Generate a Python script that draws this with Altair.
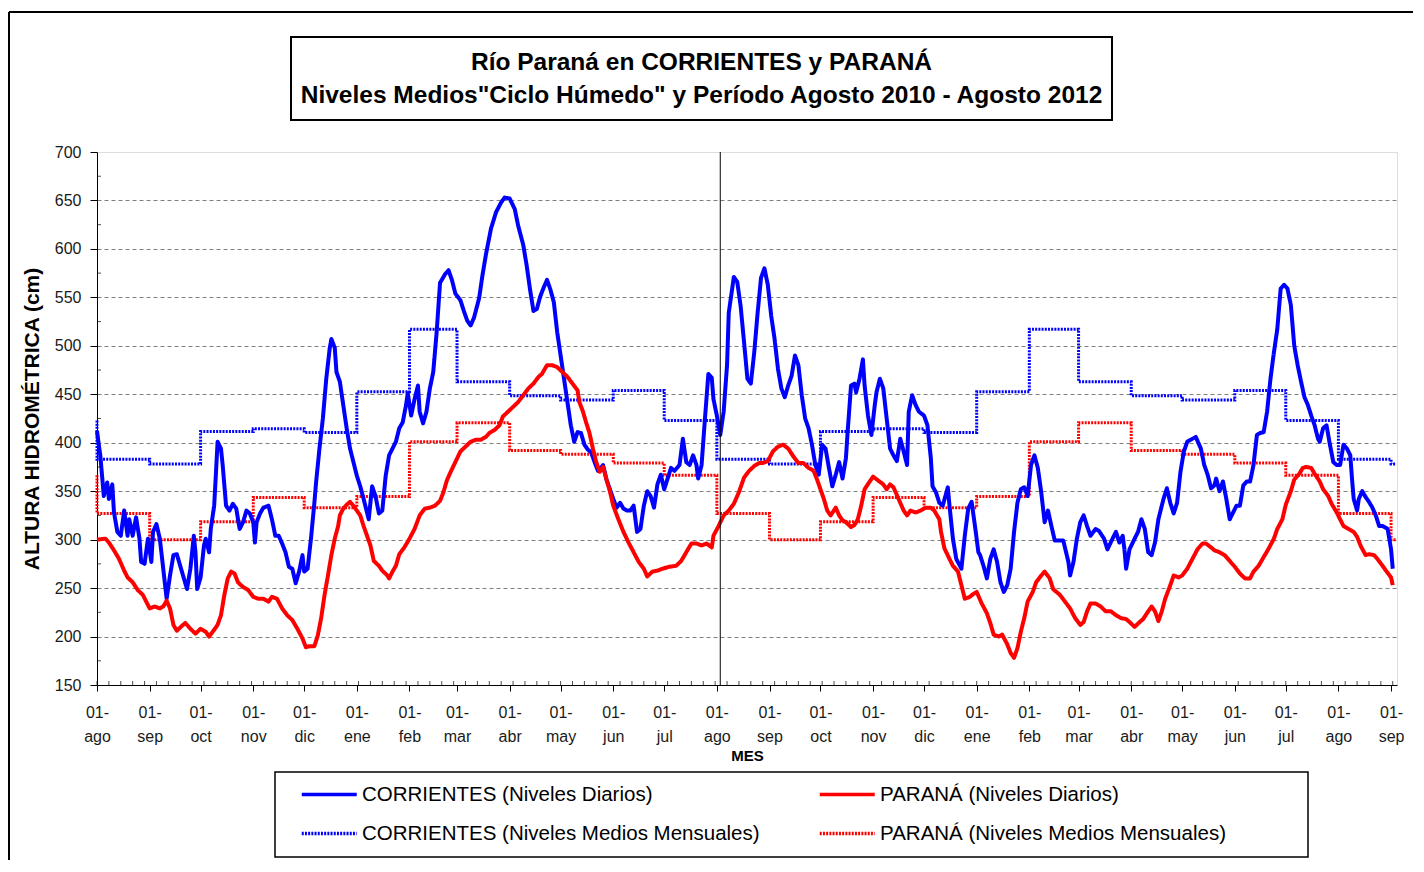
import altair as alt
import pandas as pd
from datetime import date, timedelta

# ---------------- data ----------------
INICIO = date(2010, 8, 1)   # day 0 of the daily series

CORR_DIAS = [0, 2, 4, 6, 7, 9, 10, 12, 14, 16, 18, 19, 21, 23, 25, 26, 28, 30, 32, 33, 35, 37, 39, 41, 43, 45, 47, 49,
             51, 53, 55, 57, 58, 59, 61, 63, 64, 66, 67, 69, 70, 71, 73, 74, 76, 78, 80, 82, 84, 86, 88, 90, 92, 93,
             94, 96, 98, 101, 103, 105, 107, 109, 111, 113, 115, 117, 119, 121, 122, 124, 126, 128, 129, 131, 133,
             135, 137, 138, 140, 141, 143, 145, 147, 149, 151, 153, 155, 157, 158, 160, 162, 164, 166, 168, 170, 172,
             174, 176, 178, 180, 182, 183, 185, 187, 189,
             190, 192, 194, 196, 198, 200, 202, 205, 207, 209, 211, 214, 216, 218, 220, 222, 225, 227, 229, 232, 235,
             238, 240, 243, 246, 248, 251, 253, 255, 257, 259, 261, 263, 265, 267, 269, 271, 273, 275, 277, 279, 281,
             283, 285, 287, 289, 291, 293, 295, 298, 300, 302, 304, 306, 308, 310, 312, 314, 316, 318, 320, 322, 324,
             326, 328, 330, 332, 334, 336, 338, 340, 343, 345, 347, 349, 351, 353, 354, 356, 358, 360, 362, 363, 365,
             367, 369, 371, 372,
             375, 377, 379, 381, 383, 385, 387, 389, 391, 393, 395, 397, 399, 401, 403, 405, 407, 409, 411, 413, 415,
             417, 419, 421, 423, 425, 427, 429, 431, 433, 435, 437, 439, 441, 442, 444, 446, 447, 449, 451, 452, 454,
             456, 458, 459, 461, 463, 465, 467, 469, 471, 473, 475, 477, 478, 480, 482, 484, 487, 489, 491, 492, 494,
             496, 498, 501, 502, 504, 506, 509, 511, 513, 515, 517, 519, 520, 522, 524, 526, 528, 530, 532, 534, 536,
             538, 540, 542, 544, 546, 548, 550, 552, 554, 556, 558, 560, 562, 564,
             569, 572, 573, 575, 577, 579, 581, 583, 585, 588, 590, 593, 595, 598, 600, 602, 604, 605, 606, 608, 611,
             613, 615, 617, 619, 621, 623, 625, 627, 628, 630, 632, 634, 636, 638, 640, 642, 645, 647, 650, 652, 654,
             656, 658, 659, 661, 663, 665, 667, 669, 671, 673, 675, 677, 679, 681, 683, 685, 687, 689, 691, 693, 695,
             697, 699, 701, 703, 705, 707, 709, 711, 713, 715, 717, 719, 720, 722, 724, 726, 728, 730, 732, 734, 736,
             738, 739, 740, 742, 743, 745, 747, 749, 751, 753, 755, 757, 760, 762, 763]
CORR_NIVEL = [412, 386, 345, 359, 342, 357, 328, 308, 304, 330, 304, 321, 304, 323, 301, 277, 275, 301, 277, 308, 316,
              301, 270, 239, 263, 284, 285, 273, 261, 249, 270, 304, 287, 249, 261, 294, 301, 287, 311, 335, 367, 401,
              394, 377, 335, 330, 337, 332, 311, 318, 330, 327, 318, 297, 318, 327, 333, 335, 321, 304, 304, 296, 287,
              272, 270, 255, 267, 284, 267, 270, 301, 338, 359, 394, 425, 466, 497, 507, 498, 473, 463, 439, 415, 394,
              380, 366, 355, 342, 335, 321, 355, 345, 327, 330, 366, 387, 394, 401, 415, 421, 439, 451, 428, 445, 459,
              432, 420, 432, 456, 473, 514, 565, 574, 578, 568, 554, 547, 536, 526, 521, 529, 549, 573, 594, 621, 638,
              648, 653, 652, 641, 624, 604, 583, 558, 536, 538, 551, 560, 568, 558, 545, 514, 490, 466, 442, 418, 401,
              411, 410, 398, 393, 390, 380, 371, 377, 362, 352, 342, 333, 338, 332, 330, 330, 335, 308, 311, 335, 350,
              345, 333, 357, 367, 352, 363, 374, 371, 377, 404, 380, 377, 387, 377, 363, 377, 425, 471, 467, 445, 428,
              408, 432, 480, 534,
              571, 566, 541, 504, 466, 461, 493, 534, 570, 580, 563, 531, 507, 476, 456, 447, 459, 469, 490, 480, 449,
              425, 415, 398, 377, 367, 398, 394, 374, 355, 367, 380, 363, 384, 411, 459, 461, 452, 466, 486, 459, 428,
              408, 439, 452, 466, 456, 425, 394, 387, 381, 404, 391, 377, 432, 449, 439, 432, 428, 418, 384, 355, 349,
              338, 335, 354, 335, 301, 280, 270, 304, 332, 339, 314, 287, 284, 273, 260, 280, 290, 277, 256, 246, 253,
              270, 308, 338, 352, 354, 345, 377, 387, 374, 349, 318, 330, 314, 299,
              299, 277, 263, 277, 301, 318, 325, 314, 304, 311, 309, 301, 290, 301, 308, 297, 304, 290, 270, 290, 301,
              308, 321, 311, 287, 284, 297, 321, 335, 342, 353, 338, 327, 338, 370, 391, 401, 404, 406, 394, 377, 367,
              353, 356, 363, 350, 360, 342, 321, 328, 335, 335, 356, 360, 360, 377, 408, 410, 411, 432, 466, 493, 517,
              559, 563, 559, 542, 500, 480, 463, 447, 439, 428, 418, 404, 401, 415, 418, 398, 380, 377, 377, 398, 394,
              387, 363, 342, 330, 342, 350, 344, 339, 333, 325, 314, 314, 311, 290, 270]

PAR_DIAS = [0, 5, 7, 10, 13, 16, 18, 21, 24, 27, 29, 31, 34, 37, 39, 41, 43, 45, 47, 50, 52, 55, 58, 61, 64, 66, 69,
            71, 73, 75, 77, 79, 81, 83, 86, 89, 92, 95, 98, 101, 103, 106, 109, 112, 115, 118, 121, 123, 125, 128,
            130, 132, 134, 136, 138, 140, 142, 143, 145, 147, 149, 151, 153, 155, 157, 159, 161, 163, 166, 168, 171,
            172, 174, 176, 178, 181, 184, 187,
            190, 193, 196, 199, 202, 204, 206, 208, 211, 214, 217, 220, 223, 226, 229, 231, 234, 237, 239, 242, 245,
            248, 251, 254, 257, 260, 262, 265, 268, 271, 274, 277, 280, 283, 284, 286, 288, 290, 292, 294, 296, 298,
            300, 302, 304, 307, 310, 313, 316, 319, 322, 324, 327, 330, 333, 337, 341, 344, 347, 350, 353, 356, 359,
            362, 363, 366, 369, 372,
            375, 378, 381, 384, 387, 390, 392, 395, 398, 401, 404, 407, 410, 413, 416, 419, 422, 424, 426, 428, 430,
            432, 435, 437, 439, 441, 444, 446, 448, 450, 452, 455, 457, 460, 463, 465, 467, 469, 472, 475, 477, 479,
            482, 485, 488, 491, 493, 496, 497, 499, 502, 504, 507, 509, 511, 514, 516, 518, 521, 524, 526, 528, 531,
            533, 536, 538, 540, 542, 544, 546, 548, 551, 553, 556, 558, 561, 563,
            567, 570, 573, 576, 579, 581, 583, 585, 588, 591, 594, 597, 600, 603, 606, 608, 611, 614, 616, 619, 621,
            623, 625, 627, 629, 632, 634, 637, 639, 642, 645, 648, 651, 653, 656, 658, 661, 664, 667, 670, 673, 676,
            679, 681, 684, 687, 690, 693, 695, 698, 700, 703, 705, 708, 710, 712, 715, 717, 720, 722, 725, 727, 730,
            732, 734, 737, 740, 742, 744, 747, 749, 752, 754, 757, 759, 762, 763]
PAR_NIVEL = [300, 301, 297, 289, 280, 268, 261, 256, 248, 243, 236, 229, 231, 229, 231, 237, 229, 212, 206, 211, 214,
             208, 203, 208, 205, 200, 207, 212, 222, 243, 260, 267, 265, 256, 251, 248, 241, 239, 239, 236, 241, 239,
             229, 222, 217, 208, 198, 189, 190, 190, 201, 219, 243, 263, 284, 301, 314, 325, 332, 336, 339, 335, 330,
             325, 314, 304, 294, 278, 273, 268, 263, 260, 267, 273, 285, 292, 301, 311,
             325, 332, 333, 335, 340, 349, 361, 369, 380, 391, 396, 401, 403, 403, 406, 410, 413, 418, 427, 432, 437,
             442, 449, 456, 461, 468, 471, 480, 480, 478, 473, 468, 461, 454, 442, 433, 421, 410, 394, 380, 370, 375,
             362, 350, 335, 321, 308, 297, 287, 277, 270, 262, 267, 268, 270, 272, 273, 278, 287, 296, 296, 294, 296,
             292, 304, 314, 325, 330,
             337, 349, 364, 371, 376, 379, 379, 381, 391, 396, 398, 394, 386, 379, 379, 374, 371, 362, 352, 342, 330,
             325, 333, 325, 320, 318, 313, 315, 321, 335, 352, 360, 365, 361, 357, 352, 357, 354, 342, 330, 325, 330,
             328, 330, 333, 333, 330, 321, 308, 291, 280, 273, 267, 253, 239, 241, 244, 246, 234, 224, 214, 202, 200,
             202, 192, 183, 178, 188, 205, 219, 236, 246, 256, 263, 267, 260, 249,
             243, 236, 229, 219, 212, 215, 226, 234, 234, 231, 226, 226, 222, 219, 218, 215, 210, 215, 218, 226, 231,
             226, 216, 226, 239, 253, 263, 261, 263, 270, 280, 290, 296, 296, 292, 289, 287, 284, 278, 272, 265, 260,
             260, 267, 273, 282, 291, 301, 311, 321, 336, 350, 362, 368, 374, 375, 374, 368, 360, 352, 345, 337, 328,
             321, 314, 311, 308, 303, 294, 284, 285, 284, 280, 273, 268, 261, 253]

# monthly means ("ciclo húmedo"), August .. July
MESES_CICLO = ["ago", "sep", "oct", "nov", "dic", "ene", "feb", "mar", "abr", "may", "jun", "jul"]
CORR_MENSUAL = [383, 378, 411.5, 414.5, 410.5, 452.5, 517, 463, 448.5, 444, 454, 423]
PAR_MENSUAL = [327, 300, 318.5, 343.5, 333, 344.5, 401, 420.5, 392, 388, 379, 366.5]

MES_ABREV = ["ene", "feb", "mar", "abr", "may", "jun", "jul", "ago", "sep", "oct", "nov", "dic"]
SEPARADOR = "2011-08-03"
FIN_EJE = "2012-09-04"

S_CD = "CORRIENTES (Niveles Diarios)"
S_PD = "PARANÁ (Niveles Diarios)"
S_CM = "CORRIENTES (Niveles Medios Mensuales)"
S_PM = "PARANÁ (Niveles Medios Mensuales)"
SERIES = [S_CD, S_PD, S_CM, S_PM]
COLORES = ["#0000ff", "#ff0000", "#0000ff", "#ff0000"]
DASHES = [[1, 0], [1, 0], [2, 1.2], [2, 1.2]]

TITULO_1 = "Río Paraná en CORRIENTES y PARANÁ"
TITULO_2 = 'Niveles Medios"Ciclo Húmedo" y Período Agosto 2010 - Agosto 2012'

# ---------------- tables ----------------
def fecha(d):
    return (INICIO + timedelta(days=d)).isoformat()

corr = pd.DataFrame({"fecha": [fecha(d) for d in CORR_DIAS], "nivel": CORR_NIVEL, "serie": S_CD})
par = pd.DataFrame({"fecha": [fecha(d) for d in PAR_DIAS], "nivel": PAR_NIVEL, "serie": S_PD})

inicios_mes = [date(2010 + (7 + k) // 12, (7 + k) % 12 + 1, 1) for k in range(26)]
rows = []
for serie, vals in [(S_CM, CORR_MENSUAL), (S_PM, PAR_MENSUAL)]:
    i = 0
    rows.append({"fecha": inicios_mes[0].isoformat(), "nivel": vals[11], "serie": serie, "i": i})
    for k, m in enumerate(inicios_mes):
        i += 1
        rows.append({"fecha": m.isoformat(), "nivel": vals[k % 12], "serie": serie, "i": i})
    rows.append({"fecha": FIN_EJE, "nivel": vals[(len(inicios_mes) - 1) % 12], "serie": serie, "i": i + 1})
mensual = pd.DataFrame(rows)

minor_y = pd.DataFrame({"v": list(range(175, 700, 50))})
minor_x = pd.DataFrame({"f": [d.strftime("%Y-%m-%d") for d in pd.date_range("2010-08-01", FIN_EJE, freq="7D")]})
sep_df = pd.DataFrame({"f": [SEPARADOR]})
one = pd.DataFrame({"a": [1]})

# ---------------- encodings ----------------
FONT = "Liberation Sans"
mes_list = "[" + ",".join("'%s'" % m for m in MES_ABREV) + "]"
x_vals = [alt.DateTime(year=d.year, month=d.month, date=1, utc=True) for d in inicios_mes]
x_scale = alt.Scale(type="utc", nice=False,
                    domain=[alt.DateTime(year=2010, month=8, date=1, utc=True),
                            alt.DateTime(year=2012, month=9, date=4, hours=12, utc=True)])
y_scale = alt.Scale(domain=[150, 700], nice=False, zero=False)

x_axis = alt.Axis(values=x_vals, labelExpr="['01-', %s[utcmonth(datum.value)]]" % mes_list,
                  labelAngle=0, labelFontSize=16, labelFont=FONT, labelColor="#1a1a1a",
                  labelLineHeight=24.5, labelPadding=13, labelFlush=False, labelOverlap=False,
                  labelBound=False, tickSize=6, tickColor="black", domainColor="black", grid=False,
                  title="MES", titleFont=FONT, titleFontSize=15, titleFontWeight="bold",
                  titleColor="black", titlePadding=4)
y_axis = alt.Axis(values=list(range(150, 701, 50)), labelFontSize=16, labelFont=FONT, labelColor="#1a1a1a",
                  labelPadding=9, tickSize=7, tickColor="black", domainColor="black",
                  grid=True, gridColor="#7f7f7f", gridDash=[4, 3], gridWidth=1,
                  gridOpacity={"condition": {"test": "datum.value <= 150 || datum.value >= 700", "value": 0},
                               "value": 1},
                  title="ALTURA HIDROMÉTRICA (cm)", titleFont=FONT, titleFontSize=21, titleFontWeight="bold",
                  titleColor="black", titlePadding=12)

color_enc = alt.Color("serie:N", scale=alt.Scale(domain=SERIES, range=COLORES),
                      legend=alt.Legend(orient="none", legendX=203, legendY=627, columns=2, direction="horizontal",
                                        values=SERIES, title=None,
                                        symbolType="M-1,0L3,0", symbolSize=756, symbolStrokeWidth=3.5,
                                        symbolOffset=0, labelOffset=31, labelFontSize=20.5, labelFont=FONT,
                                        labelColor="black", labelLimit=700, columnPadding=52, rowPadding=13,
                                        padding=0))
dash_enc = alt.StrokeDash("serie:N", scale=alt.Scale(domain=SERIES, range=DASHES), legend=None)

X = alt.X("fecha:T", scale=x_scale, axis=x_axis)
Y = alt.Y("nivel:Q", scale=y_scale, axis=y_axis)

mensual_layer = alt.Chart(mensual).mark_line(interpolate="step-after", strokeWidth=3, strokeCap="butt").encode(
    x=X, y=Y, color=color_enc, strokeDash=dash_enc, order="i:Q", detail="serie:N")
corr_layer = alt.Chart(corr).mark_line(strokeWidth=4, strokeJoin="round").encode(
    x=X, y=Y, color=color_enc, strokeDash=dash_enc)
par_layer = alt.Chart(par).mark_line(strokeWidth=4, strokeJoin="round").encode(
    x=X, y=Y, color=color_enc, strokeDash=dash_enc)

sep_layer = alt.Chart(sep_df).mark_rule(color="black", strokeWidth=1).encode(x=alt.X("f:T", scale=x_scale))
minor_y_layer = alt.Chart(minor_y).mark_tick(orient="horizontal", color="black", thickness=1, size=4).encode(
    y=alt.Y("v:Q", scale=y_scale), x=alt.value(2))
minor_x_layer = alt.Chart(minor_x).mark_tick(orient="vertical", color="black", thickness=1, size=4).encode(
    x=alt.X("f:T", scale=x_scale), y=alt.value(531))

# decorations: outer frame, title box, legend box
frame_top = alt.Chart(one).mark_rule(color="black", strokeWidth=2).encode(
    x=alt.value(-88), x2=alt.value(1316), y=alt.value(-140))
frame_left = alt.Chart(one).mark_rule(color="black", strokeWidth=2).encode(
    x=alt.value(-88), y=alt.value(-140), y2=alt.value(708))
title_box = alt.Chart(one).mark_rect(fill="white", stroke="black", strokeWidth=2).encode(
    x=alt.value(194), x2=alt.value(1015), y=alt.value(-115), y2=alt.value(-32))
title_1 = alt.Chart(one).mark_text(text=TITULO_1, font=FONT, fontSize=24.5, fontWeight="bold", color="black",
                                   align="center", baseline="middle").encode(x=alt.value(604.5), y=alt.value(-89))
title_2 = alt.Chart(one).mark_text(text=TITULO_2, font=FONT, fontSize=24.5, fontWeight="bold", color="black",
                                   align="center", baseline="middle").encode(x=alt.value(604.5), y=alt.value(-56))
legend_box = alt.Chart(one).mark_rect(fill="transparent", stroke="black", strokeWidth=1.5).encode(
    x=alt.value(178), x2=alt.value(1211), y=alt.value(620), y2=alt.value(705))

chart = alt.layer(
    frame_top, frame_left, title_box, title_1, title_2, legend_box,
    mensual_layer, corr_layer, par_layer, sep_layer, minor_y_layer, minor_x_layer
).properties(
    width=1300, height=533, padding={"left": 0, "top": 3, "right": 0, "bottom": 0}
).configure_view(
    stroke="black", strokeWidth=1
).configure(font=FONT, background="white")

chart.save("out.html", embed_options={"renderer": "svg", "actions": False})
